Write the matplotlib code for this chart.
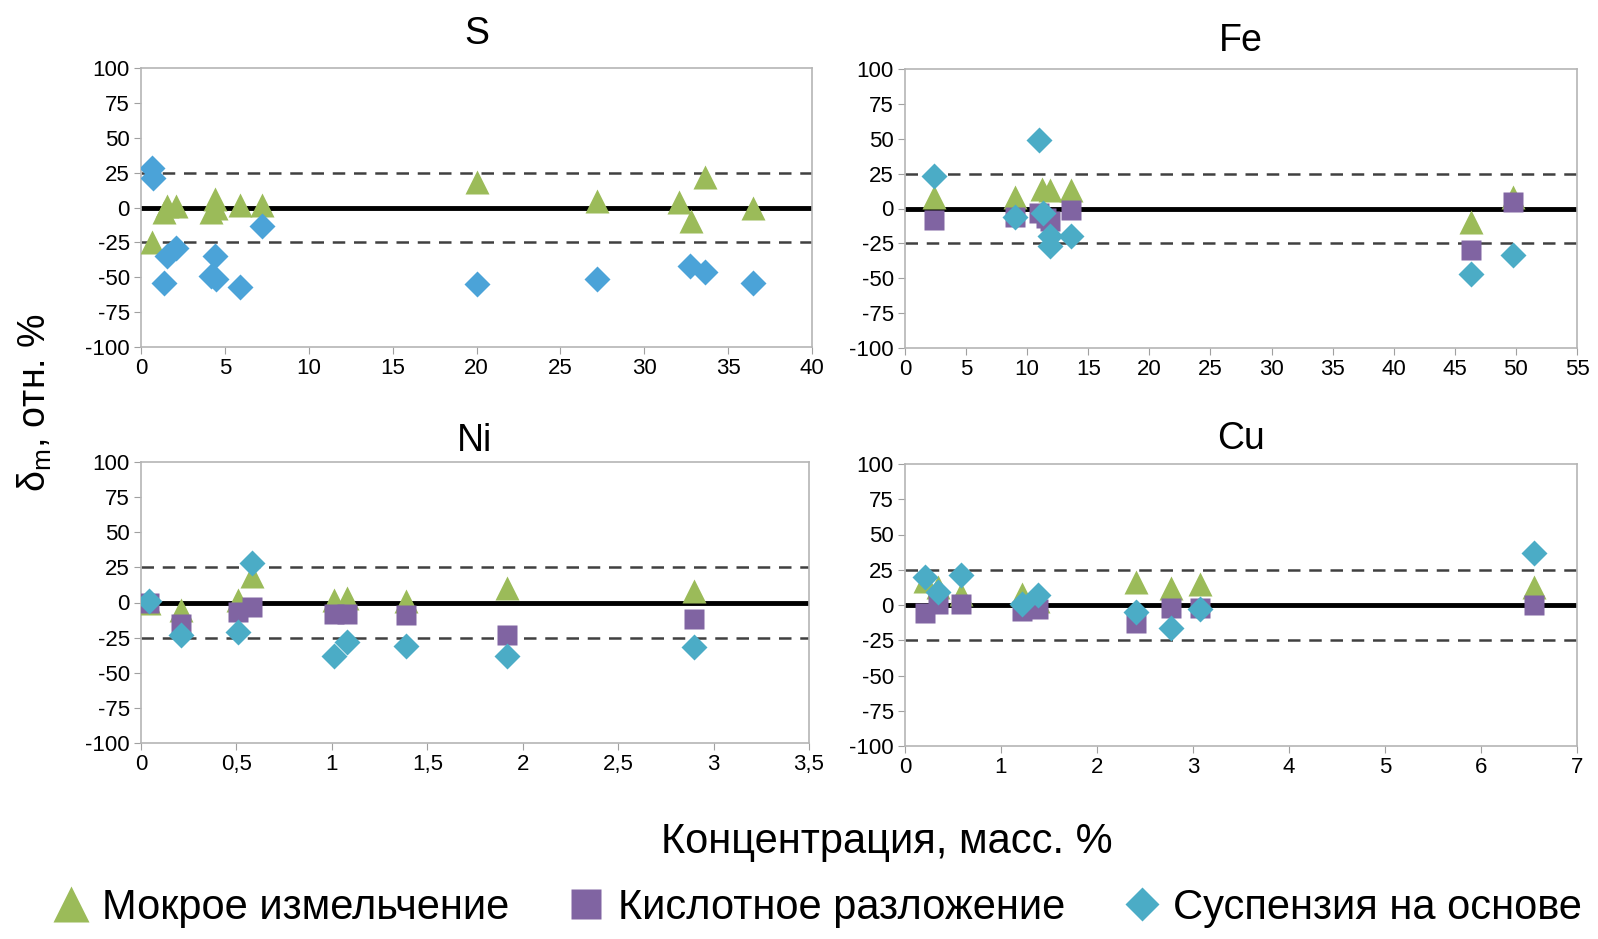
import matplotlib
matplotlib.use("Agg")
from matplotlib import pyplot as plt
from matplotlib.lines import Line2D

plt.rcParams['font.family'] = ['Liberation Sans', 'DejaVu Sans']
plt.rcParams['mathtext.default'] = 'regular'
plt.rcParams['axes.unicode_minus'] = False

# S
s_wet_x = [0.65, 1.35, 1.55, 2.1, 4.2, 4.4, 4.5, 5.9, 7.2, 20.0, 27.2, 32.1, 32.8, 33.6, 36.5]
s_wet_y = [-25, -3, 1, 1, -3, 6, 0, 2, 2, 18, 5, 4, -10, 22, 0]
s_sus_x = [0.65, 0.7, 1.35, 1.55, 2.1, 4.2, 4.4, 4.5, 5.9, 7.2, 20.0, 27.2, 32.7, 33.6, 36.5]
s_sus_y = [28, 21, -54, -35, -29, -49, -35, -51, -57, -13, -55, -51, -42, -46, -54]

# Fe
fe_wet_x = [2.4, 9.0, 11.2, 11.9, 13.6, 46.3, 49.8]
fe_wet_y = [8, 8, 14, 13, 13, -10, 8]
fe_acid_x = [2.4, 9.0, 11.0, 11.5, 11.9, 13.6, 46.3, 49.8]
fe_acid_y = [-8, -6, -3, -7, -9, -1, -30, 5]
fe_sus_x = [2.4, 9.0, 11.0, 11.3, 11.9, 11.9, 13.6, 46.3, 49.8]
fe_sus_y = [23, -6, 49, -3, -20, -27, -20, -47, -33]

# Ni
ni_x = [0.04, 0.21, 0.51, 0.58, 1.01, 1.08, 1.39, 1.92, 2.9]
ni_wet_y = [0, -5, 2, 19, 2, 3, 1, 10, 8]
ni_acid_y = [0, -15, -7, -3, -8, -8, -9, -23, -12]
ni_sus_y = [1, -23, -21, 28, -38, -28, -31, -38, -32]

# Cu
cu_x = [0.21, 0.34, 0.58, 1.22, 1.39, 2.41, 2.77, 3.07, 6.55]
cu_wet_y = [17, 13, 8, 8, 3, 16, 12, 15, 13]
cu_acid_y = [-6, 1, 1, -4, -3, -13, -2, -2, 0]
cu_sus_y = [20, 9, 21, 1, 7, -5, -16, -3, 37]

y_ticks = [-100, -75, -50, -25, 0, 25, 50, 75, 100]
ni_ticks = [0, 0.5, 1, 1.5, 2, 2.5, 3, 3.5]
ni_labels = ["0", "0,5", "1", "1,5", "2", "2,5", "3", "3,5"]

legend_labels = ["Мокрое измельчение", "Кислотное разложение", "Суспензия на основе"]

GREEN = '#9bbb59'
PURPLE = '#8064a2'
CYAN = '#4bacc6'
BLUE = '#4ba3d8'

W, H = 1598, 939
fig = plt.figure(figsize=(W / 100, H / 100), dpi=100)


def make_ax(left, right, top, bottom):
    return fig.add_axes([left / W, 1 - bottom / H, (right - left) / W, (bottom - top) / H])


def style(ax, title, pad, xmax, xstep):
    ax.set_ylim(-100, 100)
    ax.set_xlim(0, xmax)
    ax.set_yticks(y_ticks)
    ax.set_xticks([i * xstep for i in range(int(round(xmax / xstep)) + 1)])
    for sp in ax.spines.values():
        sp.set_color('#b5b5b5')
        sp.set_linewidth(1.2)
    ax.tick_params(direction='out', length=5, color='#a0a0a0', labelsize=16, pad=3)
    ax.axhline(0, color='black', lw=3.5, zorder=1)
    for v in (25, -25):
        ax.axhline(v, color='#404040', lw=1.8, dashes=(5, 3.5), zorder=1)
    ax.set_title(title, fontsize=27, pad=pad)


def draw(ax, x, wet=None, acid=None, sus=None, sus_x=None, acid_x=None, sus_color=CYAN):
    if wet is not None:
        ax.plot(x, wet, '^', color=GREEN, ms=17, mec='none', zorder=3)
    if acid is not None:
        ax.plot(acid_x if acid_x is not None else x, acid, 's', color=PURPLE, ms=15, mec='none', zorder=4)
    if sus is not None:
        ax.plot(sus_x if sus_x is not None else x, sus, 'D', color=sus_color, ms=13, mec='none', zorder=5)


ax_s = make_ax(141, 812, 68, 347)
style(ax_s, 'S', 17, 40, 5)
draw(ax_s, s_wet_x, wet=s_wet_y, sus=s_sus_y, sus_x=s_sus_x, sus_color=BLUE)

ax_fe = make_ax(905, 1577, 69, 348)
style(ax_fe, 'Fe', 13, 55, 5)
draw(ax_fe, fe_wet_x, wet=fe_wet_y, acid=fe_acid_y, acid_x=fe_acid_x, sus=fe_sus_y, sus_x=fe_sus_x)

ax_ni = make_ax(141, 809, 462, 743)
style(ax_ni, 'Ni', 8, 3.5, 0.5)
ax_ni.set_xticks(ni_ticks)
ax_ni.set_xticklabels(ni_labels)
draw(ax_ni, ni_x, wet=ni_wet_y, acid=ni_acid_y, sus=ni_sus_y)

ax_cu = make_ax(905, 1577, 464, 746)
style(ax_cu, 'Cu', 11, 7, 1)
draw(ax_cu, cu_x, wet=cu_wet_y, acid=cu_acid_y, sus=cu_sus_y)

fig.text(35 / W, 1 - 403 / H, '$δ_m$, отн. %', rotation=90, fontsize=27, ha='center', va='center')
fig.text(887 / W, 1 - 842 / H, 'Концентрация, масс. %', fontsize=30, ha='center', va='center')

handles = [
    Line2D([], [], ls='none', marker='^', ms=26, color=GREEN, mec='none'),
    Line2D([], [], ls='none', marker='s', ms=21, color=PURPLE, mec='none'),
    Line2D([], [], ls='none', marker='D', ms=17, color=CYAN, mec='none'),
]
fig.legend(handles, legend_labels, loc='center', bbox_to_anchor=(815 / W, 1 - 908 / H),
           ncol=3, frameon=False, fontsize=30, handletextpad=0.2, columnspacing=1.3,
           handlelength=1.1, borderaxespad=0)

fig.savefig('out.png', dpi=100)
